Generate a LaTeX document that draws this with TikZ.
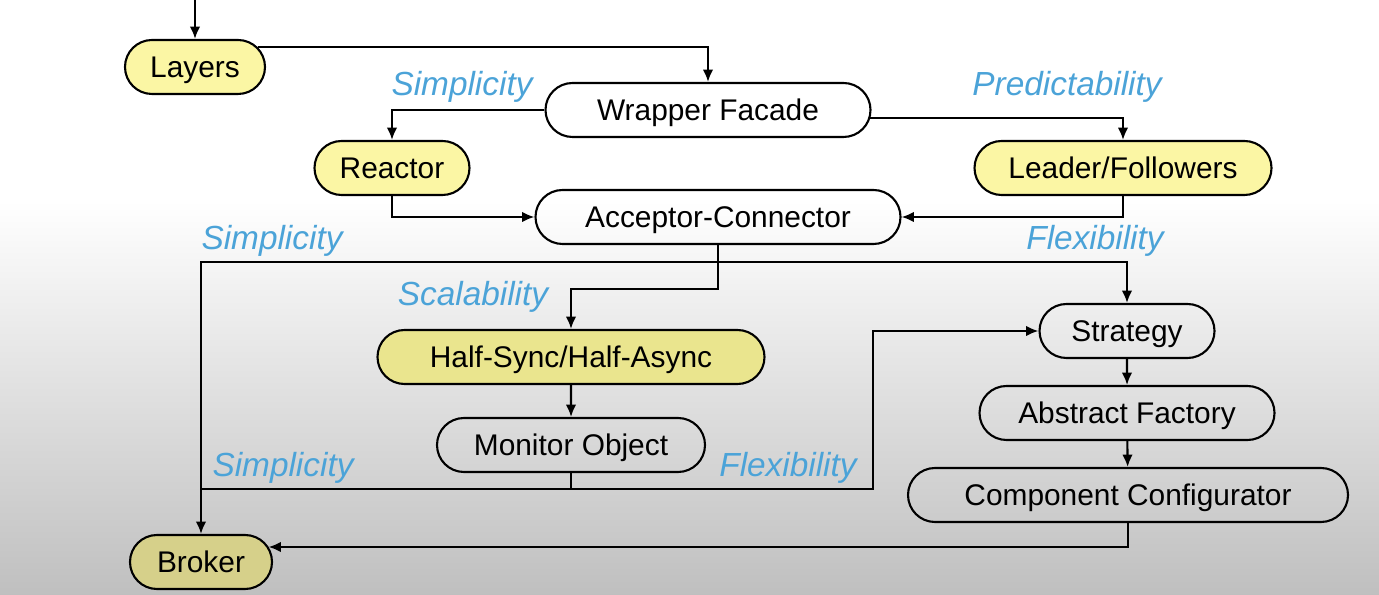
\documentclass[tikz,border=0pt]{standalone}
\usepackage{fontspec}
\setmainfont{Liberation Sans}
\usetikzlibrary{arrows.meta,positioning,shapes.misc,calc}
\definecolor{tagblue}{HTML}{4BA3D8}
\definecolor{paleyellow}{HTML}{FBF6A4}
\definecolor{midyellow}{HTML}{EAE58E}
\definecolor{darkyellow}{HTML}{D6D08A}

\begin{document}
\begin{tikzpicture}[
    pat/.style={draw, rounded rectangle, line width=1.2pt, minimum height=1.08cm,
                inner sep=0pt, text height=12.2pt, text depth=0pt,
                font=\fontsize{17}{20}\selectfont},
    tag/.style={font=\fontsize{19}{22}\selectfont\itshape, text=tagblue, inner sep=0pt},
    link/.style={line width=1.2pt, -{Latex[length=7pt,width=6pt]}},
    wire/.style={line width=1.2pt},
]
\useasboundingbox (0,0) rectangle (27.58,11.9);
\fill[white] (0,7.9) rectangle (27.58,11.9);
\shade[top color=white, bottom color=gray!50] (0,0) rectangle (27.58,7.9);

\node[pat, fill=paleyellow, minimum width=2.8cm] (layers) at (3.90,10.56) {Layers};
\node[pat, minimum width=6.5cm] (wrapper) at (14.16,9.70) {Wrapper Facade};
\node[pat, fill=paleyellow, minimum width=3.1cm] (reactor) at (7.84,8.54) {Reactor};
\node[pat, fill=paleyellow, minimum width=5.94cm] (leader) at (22.46,8.54) {Leader/Followers};
\node[pat, minimum width=7.3cm] (acceptor) at (14.36,7.56) {Acceptor-Connector};
\node[pat, minimum width=3.5cm] (strategy) at (22.54,5.28) {Strategy};
\node[pat, fill=midyellow, minimum width=7.74cm] (halfsync) at (11.42,4.76) {Half-Sync/Half-Async};
\node[pat, minimum width=5.9cm] (factory) at (22.54,3.64) {Abstract Factory};
\node[pat, minimum width=5.36cm] (monitor) at (11.42,3.00) {Monitor Object};
\node[pat, minimum width=8.8cm] (configurator) at (22.56,2.00) {Component Configurator};
\node[pat, fill=darkyellow, minimum width=2.84cm] (broker) at (4.02,0.66) {Broker};

\node[tag] (simp1) at (9.24,10.16) {Simplicity};
\node[tag] (pred) at (21.34,10.16) {Predictability};
\node[tag] (simp2) at (5.44,7.08) {Simplicity};
\node[tag] (flex1) at (21.90,7.08) {Flexibility};
\node[tag] (scal) at (9.46,5.96) {Scalability};
\node[tag] (simp3) at (5.66,2.54) {Simplicity};
\node[tag] (flex2) at (15.76,2.54) {Flexibility};

\coordinate (top) at (3.90,11.9);
\coordinate (busa) at (acceptor.south |- 0,6.66);
\coordinate (busb) at (monitor.south |- 0,2.12);
\coordinate (turn) at (17.46,2.12);
\coordinate (brokerin) at ([xshift=-0.09cm,yshift=0.3cm]broker.east);

\draw[link] (top) -- (layers.north);
\draw[link] ([xshift=-0.17cm,yshift=0.4cm]layers.east) -| (wrapper.north);
\draw[link] (wrapper.west) -| (reactor.north);
\draw[link] ([xshift=-0.03cm,yshift=-0.16cm]wrapper.east) -| (leader.north);
\draw[link] (reactor.south) |- (acceptor.west);
\draw[link] (leader.south) |- (acceptor.east);
\draw[wire] (acceptor.south) -- (busa);
\draw[link] (busa) -| (strategy.north);
\draw[link] (busa) -| (broker.north);
\draw[link] (acceptor.south) -- ++(0,-0.88) -| (halfsync.north);
\draw[link] (halfsync) -- (monitor);
\draw[wire] (monitor.south) -- (busb) -- (busb -| broker.north);
\draw[link] (busb) -- (turn) |- (strategy.west);
\draw[link] (strategy) -- (factory);
\draw[link] (factory) -- (configurator);
\draw[link] (configurator.south) |- (brokerin);
\end{tikzpicture}
\end{document}
